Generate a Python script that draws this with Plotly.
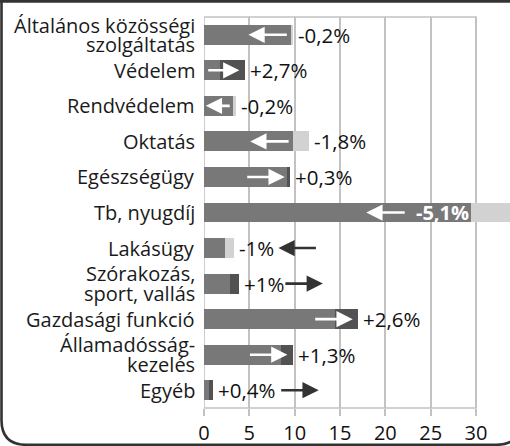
import plotly.graph_objects as go

# ---- data ----
categories = ["Általános közösségi<br>szolgáltatás", "Védelem", "Rendvédelem", "Oktatás",
              "Egészségügy", "Tb, nyugdíj", "Lakásügy", "Szórakozás,<br>sport, vallás",
              "Gazdasági funkció", "Államadósság-<br>kezelés", "Egyéb"]
old_values = [9.8, 1.8, 3.5, 11.6, 9.2, 34.6, 3.3, 2.9, 14.4, 8.5, 0.6]
new_values = [9.6, 4.5, 3.3, 9.8, 9.5, 29.5, 2.3, 3.9, 17.0, 9.8, 1.0]
change_labels = ["-0,2%", "+2,7%", "-0,2%", "-1,8%", "+0,3%", "-5,1%", "-1%", "+1%",
                 "+2,6%", "+1,3%", "+0,4%"]
arrow_inside = [True, True, True, True, True, True, False, False, True, True, False]
label_inside = [False, False, False, False, False, True, False, False, False, False, False]
x_ticks = [0, 5, 10, 15, 20, 25, 30]

FONT = "Open Sans"
W, H = 510, 446
L, R, T, B = 204, 0, 17, 36
XMAX = (W - R - L) / (272 / 30)

y = list(range(len(categories)))
base = [min(o, n) for o, n in zip(old_values, new_values)]
inc = [max(n - o, 0) for o, n in zip(old_values, new_values)]
dec = [max(o - n, 0) for o, n in zip(old_values, new_values)]

fig = go.Figure()
for vals, col in [(base, "#787878"), (inc, "#525252"), (dec, "#d2d2d2")]:
    fig.add_trace(go.Bar(y=y, x=vals, orientation="h", marker=dict(color=col, line=dict(width=0)),
                         width=0.56, hoverinfo="skip", showlegend=False))

ann = []
# category labels (split lines for tight spacing)
for i, c in enumerate(categories):
    lines = c.split("<br>")
    n = len(lines)
    for k, ln in enumerate(lines):
        ann.append(dict(xref="paper", yref="y", x=0, y=i, xanchor="right", yanchor="middle",
                        xshift=-7, yshift=(-(k - (n - 1) / 2) * 19.5), text=ln, showarrow=False,
                        font=dict(family=FONT, size=20, color="#1a1a1a")))

unit_per_char = 1.22
for i in range(len(categories)):
    o, n = old_values[i], new_values[i]
    m = max(o, n)
    up = n >= o
    lab = change_labels[i]
    if label_inside[i]:
        ann.append(dict(x=n, y=i, xanchor="right", yanchor="middle", xshift=0, text="<b>" + lab + "</b>",
                        showarrow=False, font=dict(family=FONT, size=20, color="white")))
    else:
        ann.append(dict(x=m, y=i, xanchor="left", yanchor="middle", xshift=3, text=lab,
                        showarrow=False, font=dict(family=FONT, size=20.5, color="#111")))
    if arrow_inside[i]:
        col = "white"
        if up:
            head = n - 0.6
            tail = max(head - 4.3, 0.3)
        else:
            tail = n - 0.3 - (len(lab) * 1.2 + 0.9 if label_inside[i] else 0)
            head = max(tail - 4.4, 0.2)
    else:
        col = "#333333"
        start = m + 0.45 + len(lab) * unit_per_char + 0.8
        if up:
            tail, head = start, start + 4.3
        else:
            head, tail = start, start + 4.3
    ann.append(dict(x=head, y=i, ax=tail, ay=i, xref="x", yref="y", axref="x", ayref="y",
                    text="", showarrow=True, arrowhead=2, arrowsize=1.25, arrowwidth=2.6,
                    arrowcolor=col, standoff=0, startstandoff=0))

def px(xpx):
    return (xpx - L) / (W - L - R)

def py(ypx):
    return (H - B - ypx) / (H - T - B)

frame = (f"M {px(1.5)},{py(0)} L {px(1.5)},{py(422)} "
         f"Q {px(1.5)},{py(447)} {px(26.5)},{py(447)} L {px(496)},{py(447)} "
         f"Q {px(521)},{py(447)} {px(521)},{py(422)}")

shapes = [
    dict(type="rect", xref="x", yref="paper", x0=0, x1=30, y0=0, y1=1,
         line=dict(color="#c2c2c2", width=1.6), layer="below"),
    dict(type="path", xref="paper", yref="paper", path=frame,
         line=dict(color="#333333", width=2.6)),
    dict(type="line", xref="paper", yref="paper", x0=px(0), x1=px(W), y0=py(1.3), y1=py(1.3),
         line=dict(color="#333333", width=2.6)),
]

fig.update_layout(
    width=W, height=H, margin=dict(l=L, r=R, t=T, b=B),
    barmode="stack", bargap=0, plot_bgcolor="white", paper_bgcolor="white",
    annotations=ann, shapes=shapes,
    xaxis=dict(range=[0, XMAX], tickvals=x_ticks, ticktext=[str(t) for t in x_ticks],
               showgrid=True, gridcolor="#c2c2c2", gridwidth=1.6, zeroline=False, showline=False,
               ticks="outside", ticklen=7, tickcolor="#c2c2c2", tickwidth=1.6,
               tickfont=dict(family=FONT, size=20, color="#111"), fixedrange=True),
    yaxis=dict(range=[len(categories) - 0.5, -0.5], showticklabels=False, showgrid=False,
               zeroline=False, showline=False, fixedrange=True),
    showlegend=False,
)

fig.write_html("out.html", config={"displayModeBar": False},
               post_script="document.body.style.margin='0';document.body.style.overflow='hidden';")
